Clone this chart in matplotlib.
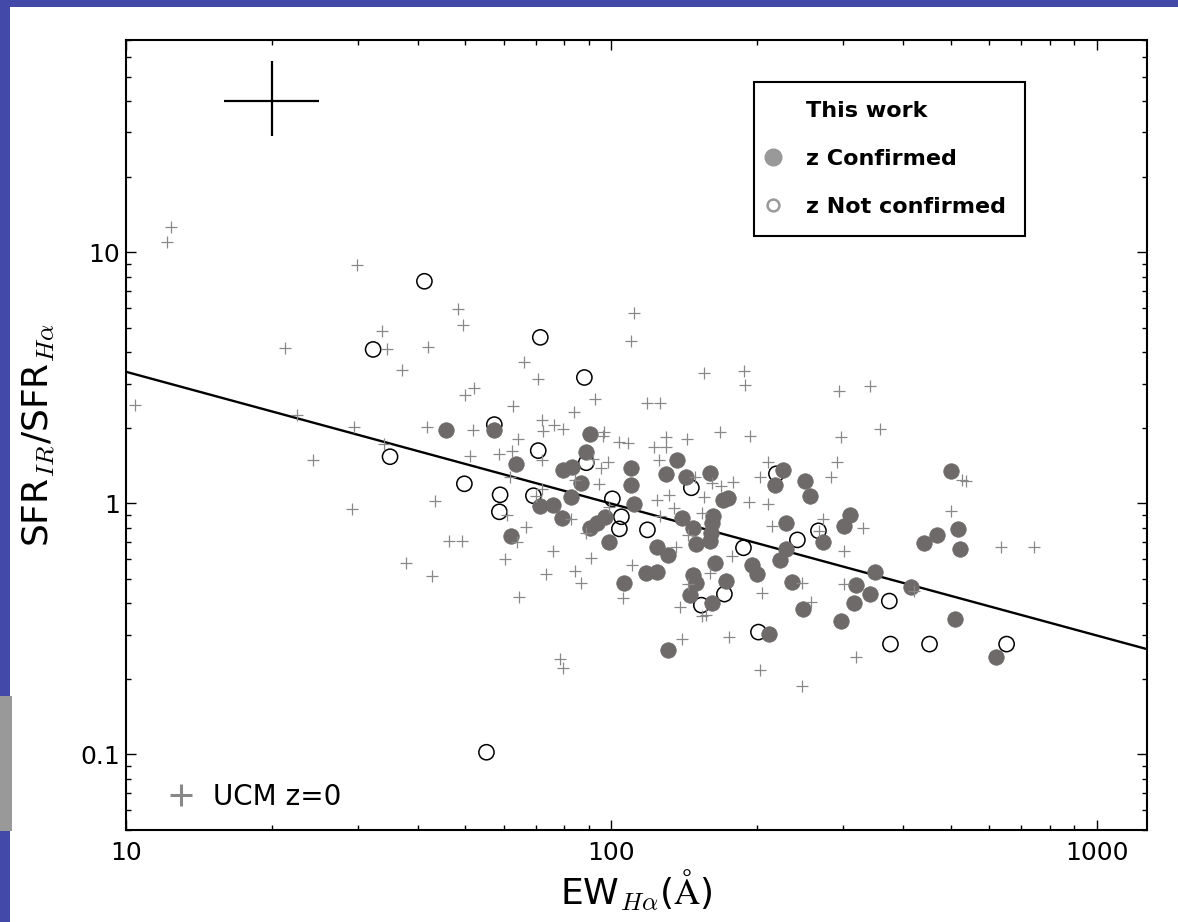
import numpy as np
import matplotlib
matplotlib.use('Agg')
import matplotlib.pyplot as plt
from matplotlib.lines import Line2D
from matplotlib.patches import Rectangle
from matplotlib.ticker import FixedLocator, FixedFormatter, NullFormatter, LogLocator

plt.rcParams['font.family'] = ['DejaVu Sans']
plt.rcParams['mathtext.fontset'] = 'cm'

# ---------------- data ----------------
# UCM z=0 sample (gray plus signs)
ucm_ew = [12.38, 12.15, 29.9, 48.4, 49.5, 33.7, 34.5, 21.3, 42.0, 37.1, 66.2, 70.7, 52.2, 50.0,
          10.43, 22.5, 29.5, 41.7, 51.9, 34.0, 24.3, 51.2, 43.4, 29.2, 46.3, 49.3, 37.8, 42.8,
          111.5, 110, 155.5, 188.1, 189, 342, 295.2, 62.8, 83.9, 92.7, 118.7, 126.2, 72.1, 72.4,
          76.3, 79.6, 64.3, 62.5, 58.8, 72.1, 96.7, 96.3, 103.9, 108.4, 129.9, 143.5, 122.7, 129.9,
          125.6, 167.8, 193.5, 98.6, 95.4, 94.5, 91.8, 84.3, 61.9, 72.1, 70.0, 124.4, 131.7, 134.9,
          155.5, 149, 161.6, 168.6, 178.4, 210.8, 202, 210.8, 192.6, 154, 126.2, 99.1, 61.0, 82.7,
          66.8, 88.8, 64.0, 75.9, 60.5, 90.9, 110.5, 136.1, 144.1, 177.6, 160, 144.1, 214.8, 73.5,
          84.3, 86.8, 64.6, 105.9, 138.8, 154, 157, 204.8, 140.1, 175.1, 78.5, 79.6, 202, 358.6,
          298, 292.4, 284.2, 273.6, 268.5, 330.8, 302.3, 529, 537, 502, 634, 741.6, 246.6, 302.3,
          258.5, 419.5, 320, 247.7]
ucm_ratio = [12.58, 10.96, 8.87, 5.92, 5.11, 4.84, 4.10, 4.14, 4.18, 3.41, 3.67, 3.14, 2.89, 2.69,
             2.47, 2.24, 2.02, 2.02, 1.965, 1.728, 1.492, 1.548, 1.023, 0.951, 0.708, 0.708, 0.579, 0.513,
             5.71, 4.45, 3.29, 3.35, 2.97, 2.92, 2.79, 2.45, 2.32, 2.61, 2.50, 2.52, 2.15, 1.947,
             2.058, 1.983, 1.81, 1.621, 1.576, 1.492, 1.93, 1.86, 1.76, 1.744, 1.843, 1.81, 1.681, 1.681,
             1.492, 1.93, 1.86, 1.464, 1.387, 1.196, 1.505, 1.241, 1.276, 1.143, 1.072, 1.033, 1.081, 0.959,
             1.062, 1.276, 1.208, 1.175, 1.218, 1.464, 1.276, 0.996, 1.014, 0.917, 0.891, 0.968, 0.900, 0.867,
             0.806, 0.762, 0.702, 0.646, 0.600, 0.606, 0.568, 0.671, 0.749, 0.617, 0.528, 0.477, 0.813, 0.523,
             0.538, 0.482, 0.423, 0.419, 0.386, 0.356, 0.359, 0.439, 0.288, 0.293, 0.239, 0.220, 0.216, 1.983,
             1.843, 1.464, 1.276, 0.867, 0.774, 0.798, 0.646, 1.241, 1.229, 0.933, 0.671, 0.671, 0.482, 0.477,
             0.404, 0.447, 0.244, 0.187]

# This work, redshift confirmed (filled circles)
conf_ew = [45.7, 57.4, 63.7, 62.2, 71.4, 75.9, 79.3, 79.6, 83.1, 82.7, 86.8, 90.5, 88.8, 90.5,
           93.6, 97.2, 99.1, 106.4, 110, 110, 111.5, 118, 124.4, 124.4, 131.1, 131.1, 129.9, 136.8,
           142.8, 140.1, 147.6, 149.7, 147.6, 149.7, 145.5, 161.6, 163.9, 160, 162.3, 161.6, 160.8, 160,
           170.2, 174.3, 172.7, 194.5, 200, 211.8, 226.2, 217.8, 229.5, 229.5, 223, 236.1, 251.2, 257.2,
           248.8, 273.6, 302.3, 309.6, 298, 317, 342, 320, 348.6, 413.6, 440, 470, 502, 519, 524, 509.6,
           619.5]
conf_ratio = [1.95, 1.95, 1.44, 0.742, 0.977, 0.986, 0.875, 1.36, 1.40, 1.062, 1.208, 1.895, 1.607, 0.798,
              0.836, 0.884, 0.702, 0.482, 1.387, 1.186, 0.996, 0.528, 0.533, 0.671, 0.623, 0.260, 1.311, 1.492,
              1.276, 0.875, 0.798, 0.689, 0.518, 0.482, 0.431, 0.401, 0.579, 1.323, 0.891, 0.836, 0.762, 0.708,
              1.033, 1.052, 0.491, 0.568, 0.523, 0.301, 1.36, 1.186, 0.836, 0.658, 0.595, 0.486, 1.23, 1.072,
              0.379, 0.702, 0.813, 0.900, 0.340, 0.401, 0.435, 0.473, 0.533, 0.464, 0.696, 0.749, 1.349, 0.791,
              0.658, 0.346, 0.244]

# This work, redshift not confirmed (open circles)
nconf_ew = [41.2, 32.3, 71.4, 88.0, 35.0, 49.8, 57.4, 70.7, 88.8, 59.0, 58.8, 69.1, 100.5, 104.9,
            103.9, 118.7, 146.2, 187.2, 171, 153.3, 201, 218.9, 241.8, 267.2, 374, 376, 452.6, 652.4, 55.3]
nconf_ratio = [7.66, 4.10, 4.58, 3.17, 1.533, 1.196, 2.058, 1.621, 1.451, 1.081, 0.925, 1.072, 1.042, 0.884,
               0.791, 0.784, 1.153, 0.665, 0.435, 0.393, 0.307, 1.311, 0.715, 0.777, 0.408, 0.275, 0.275, 0.275, 0.102]

# fitted relation: ratio = fit_norm * (EW/10)**fit_slope
fit_norm = 3.34
fit_slope = -0.525

# typical error bar
err_ew, err_ratio = 20.0, 40.0
err_ew_lo, err_ew_hi = 4.1, 5.0
err_ratio_lo, err_ratio_hi = 11.0, 18.0

x_ticks = [10, 100, 1000]
x_tick_labels = ['10', '100', '1000']
y_ticks = [0.1, 1, 10]
y_tick_labels = ['0.1', '1', '10']

legend_labels = ['This work', 'z Confirmed', 'z Not confirmed']
ucm_label = 'UCM z=0'

# ---------------- figure ----------------
W, H = 1178, 922
fig = plt.figure(figsize=(W / 100, H / 100), dpi=100)
fig.patch.set_facecolor('white')

blue = '#4349A9'
fig.add_artist(Rectangle((0, 1 - 7 / H), 1, 7 / H, transform=fig.transFigure,
                         facecolor=blue, edgecolor='none', zorder=0))
fig.add_artist(Rectangle((0, 0), 10 / W, 1, transform=fig.transFigure,
                         facecolor=blue, edgecolor='none', zorder=0))
fig.add_artist(Rectangle((0, 1 - 831 / H), 12 / W, 135 / H, transform=fig.transFigure,
                         facecolor='#999999', edgecolor='none', zorder=1))

ax = fig.add_axes([126 / W, 92 / H, 1021 / W, 790 / H])
ax.set_xscale('log')
ax.set_yscale('log')
ax.set_xlim(10, 1270)
ax.set_ylim(0.05, 70)

# fit line
fx = np.logspace(1, np.log10(1270), 50)
ax.plot(fx, fit_norm * (fx / 10.0) ** fit_slope, color='black', lw=1.7, zorder=2)

# data
ax.scatter(nconf_ew, nconf_ratio, s=120, facecolors='none', edgecolors='black',
           linewidths=1.1, zorder=3)
ax.scatter(conf_ew, conf_ratio, s=125, color='#6e6a6a', edgecolors='#6e6a6a',
           linewidths=0.5, zorder=4)
ax.plot(ucm_ew, ucm_ratio, linestyle='none', marker='+', ms=8, mew=0.9,
        color='#888888', zorder=5)

# error cross
ax.errorbar([err_ew], [err_ratio], xerr=[[err_ew_lo], [err_ew_hi]],
            yerr=[[err_ratio_lo], [err_ratio_hi]], fmt='none', ecolor='black',
            elinewidth=1.6, capsize=0, zorder=5)

# ticks
ax.xaxis.set_major_locator(FixedLocator(x_ticks))
ax.xaxis.set_major_formatter(FixedFormatter(x_tick_labels))
ax.yaxis.set_major_locator(FixedLocator(y_ticks))
ax.yaxis.set_major_formatter(FixedFormatter(y_tick_labels))
ax.xaxis.set_minor_locator(LogLocator(base=10, subs=np.arange(2, 10)))
ax.yaxis.set_minor_locator(LogLocator(base=10, subs=np.arange(2, 10)))
ax.xaxis.set_minor_formatter(NullFormatter())
ax.yaxis.set_minor_formatter(NullFormatter())
ax.tick_params(which='both', direction='in', top=True, right=True, width=1.0)
ax.tick_params(which='major', length=7.2, labelsize=18)
ax.tick_params(which='minor', length=3.6)
ax.tick_params(axis='x', which='major', pad=8)
ax.tick_params(axis='y', which='major', pad=4.5)
for sp in ax.spines.values():
    sp.set_linewidth(1.5)

ax.set_xlabel(r'EW$_{H\alpha}$($\mathrm{\AA}$)', fontsize=26, labelpad=2)
ax.set_ylabel(r'SFR$_{IR}$/SFR$_{H\alpha}$', fontsize=26, labelpad=16)

# legends
h_title = Line2D([], [], linestyle='none', marker='None')
h_conf = Line2D([], [], linestyle='none', marker='o', ms=12, mfc='#999999', mec='#999999')
h_nconf = Line2D([], [], linestyle='none', marker='o', ms=8.5, mfc='white', mec='#999999', mew=1.8)
leg1 = ax.legend([h_title, h_conf, h_nconf], legend_labels, loc='upper left',
                 bbox_to_anchor=((754 - 126) / 1021, (830 - 82) / 790), bbox_transform=ax.transAxes,
                 borderaxespad=0, prop={'weight': 'bold', 'size': 16}, frameon=True,
                 fancybox=False, edgecolor='black', framealpha=1, borderpad=0.85,
                 handlelength=0.0, handletextpad=1.5, labelspacing=1.26, numpoints=1)
leg1.get_frame().set_linewidth(1.5)
leg1.set_zorder(10)
ax.add_artist(leg1)

h_ucm = Line2D([], [], linestyle='none', marker='+', ms=16, mew=2.2, color='#888888')
leg2 = ax.legend([h_ucm], [ucm_label], loc='lower left',
                 bbox_to_anchor=((167 - 126) / 1021, (830 - 811) / 790), bbox_transform=ax.transAxes,
                 borderaxespad=0, borderpad=0, prop={'size': 20}, frameon=False,
                 handlelength=1.0, handletextpad=0.65, numpoints=1)
leg2.set_zorder(10)

fig.savefig('out.png', dpi=100, facecolor=fig.get_facecolor())
